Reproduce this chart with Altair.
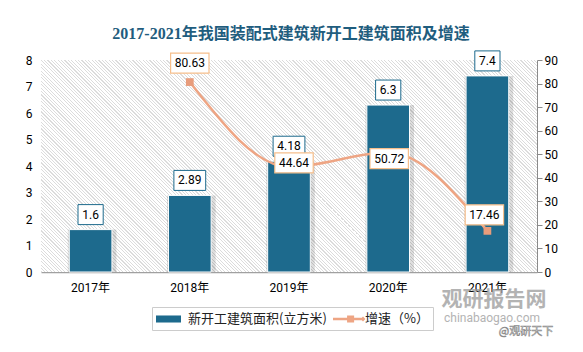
import altair as alt
import pandas as pd

# ---------------- data ----------------
years = ["2017年", "2018年", "2019年", "2020年", "2021年"]
area_values = [1.6, 2.89, 4.18, 6.3, 7.4]
area_labels = ["1.6", "2.89", "4.18", "6.3", "7.4"]
growth_years = ["2018年", "2019年", "2020年", "2021年"]
growth_values = [80.63, 44.64, 50.72, 17.46]
growth_labels = ["80.63", "44.64", "50.72", "17.46"]
left_ticks = list(range(0, 9))
right_ticks = list(range(0, 91, 10))

SERIES_BAR = "新开工建筑面积(立方米)"
SERIES_LINE = "增速（%）"
TITLE = "2017-2021年我国装配式建筑新开工建筑面积及增速"

# ---------------- style ----------------
W, H = 496, 212
BAR = "#1d6a8d"
LINE = "#eea584"
MARK = "#e89c7b"
LBORDER = "#f6bf8c"
HATCH = "#dcdcdc"
NUM_FONT = "Roboto, Noto Sans CJK SC"
CJK_FONT = "Noto Sans CJK SC"
TITLE_FONT = "Liberation Serif, Noto Sans CJK SC"

# label pixel offsets for the growth labels (style, not data)
growth_label_dx = [0, 5, 1, -3]
growth_label_dy = [-19, -4, 6, -16]


def box_path(label):
    w = 6.6 * sum(c.isdigit() for c in label) + 3 * label.count(".") + 9
    a = w / 2 / 20.0  # unit = 20 px when size = 1600
    return f"M{-a:.3f},-0.5L{a:.3f},-0.5L{a:.3f},0.5L{-a:.3f},0.5Z"


bar_df = pd.DataFrame({
    "year": years,
    "area": area_values,
    "label": area_labels,
    "box": [box_path(s) for s in area_labels],
    "series": [SERIES_BAR] * len(years),
})
line_df = pd.DataFrame({
    "year": growth_years,
    "growth": growth_values,
    "label": growth_labels,
    "box": [box_path(s) for s in growth_labels],
    "dx": growth_label_dx,
    "dy": growth_label_dy,
})

# hatched background via a striped linear gradient
P = 3.4
N = int(round((W + H) / P))
g = 0.34
stops = []
for i in range(N):
    t0 = round(i / N, 6)
    t1 = round((i + g) / N, 6)
    t2 = round((i + 1) / N, 6)
    stops += [
        {"offset": t0, "color": HATCH},
        {"offset": t1, "color": HATCH},
        {"offset": t1, "color": "#ffffff"},
        {"offset": t2, "color": "#ffffff"},
    ]
k = (W + H) / (W * W + H * H)
grad = {"gradient": "linear", "x1": 0, "y1": 1, "x2": k * W, "y2": 1 - k * H, "stops": stops}

one = pd.DataFrame({"a": [0]})
bg = alt.Chart(one).mark_rect(fill=grad, strokeWidth=0).encode(
    x=alt.value(0), x2=alt.value(W), y=alt.value(0), y2=alt.value(H)
)

x_enc = alt.X(
    "year:N",
    scale=alt.Scale(domain=years, paddingInner=0.57, paddingOuter=0.285),
    axis=alt.Axis(
        title=None, labelAngle=0, ticks=False, tickSize=0, domainColor="#a0a0a0",
        domainWidth=1.5, labelPadding=10, labelFontSize=12, labelColor="#000000",
        labelFont=NUM_FONT,
    ),
)
yL = alt.Y(
    "area:Q",
    scale=alt.Scale(domain=[0, 8], nice=False),
    axis=alt.Axis(
        title=None, values=left_ticks, domain=False, ticks=False, tickSize=0, grid=False,
        labelPadding=9, labelFontSize=12, labelColor="#000000", labelFont=NUM_FONT,
    ),
)
yR = alt.Y(
    "growth:Q",
    scale=alt.Scale(domain=[0, 90], nice=False),
    axis=alt.Axis(
        title=None, orient="right", values=right_ticks, grid=False,
        domainColor="#8a8a8a", tickColor="#8a8a8a", tickSize=5, labelPadding=2,
        labelFontSize=12, labelColor="#000000", labelFont=NUM_FONT,
    ),
)

rect_sym = "M-1,-0.44L2.125,-0.44L2.125,0.44L-1,0.44Z"
line_sym = ("M-1,-0.16L2.7,-0.16L2.7,0.16L-1,0.16Z "
            "M0.76,-0.44L1.64,-0.44L1.64,0.44L0.76,0.44Z "
            "M2.75,-0.3L3.05,0L2.75,0.3L2.45,0Z")

legend = alt.Legend(
    title=None, orient="none", legendX=111, legendY=247, direction="horizontal",
    strokeColor="#cccccc", padding=4, labelFontSize=13, labelFont=CJK_FONT,
    labelColor="#222222", symbolSize=256, labelOffset=16, columnPadding=6,
    labelLimit=300, symbolStrokeWidth=0, symbolOpacity=1,
    symbolType={"expr": f"datum.value === '{SERIES_LINE}' ? '{line_sym}' : '{rect_sym}'"},
)
color_enc = alt.Color(
    "series:N",
    scale=alt.Scale(domain=[SERIES_BAR, SERIES_LINE], range=[BAR, LINE]),
    legend=legend,
)

shadow = alt.Chart(bar_df).mark_bar(
    color="#000000", opacity=0.13, width=alt.RelativeBandSize(1.14), xOffset=1.5
).encode(x=x_enc, y=yL)
bars = alt.Chart(bar_df).mark_bar(stroke="white", strokeWidth=1).encode(
    x=x_enc, y=yL, color=color_enc
)
bar_box = alt.Chart(bar_df).mark_point(
    filled=True, fill="white", stroke=BAR, strokeWidth=1, size=1600, opacity=1, yOffset=-15
).encode(x=x_enc, y=yL, shape=alt.Shape("box:N", scale=None))
bar_text = alt.Chart(bar_df).mark_text(
    dy=-15, fontSize=12, font=NUM_FONT, color="#000000", baseline="middle"
).encode(x=x_enc, y=yL, text="label:N")

left = alt.layer(shadow, bars, bar_box, bar_text)

line = alt.Chart(line_df).mark_line(color=LINE, strokeWidth=2.5, interpolate="monotone").encode(
    x=x_enc, y=yR
)
pts = alt.Chart(line_df).mark_square(size=60, color=MARK, opacity=1).encode(x=x_enc, y=yR)
line_box = alt.Chart(line_df).mark_point(
    filled=True, fill="white", stroke=LBORDER, strokeWidth=1.2, size=1600, opacity=1,
    xOffset={"expr": "datum.dx"}, yOffset={"expr": "datum.dy"},
).encode(x=x_enc, y=yR, shape=alt.Shape("box:N", scale=None))
line_text = alt.Chart(line_df).mark_text(
    fontSize=12, font=NUM_FONT, color="#000000", baseline="middle",
    dx={"expr": "datum.dx"}, dy={"expr": "datum.dy"},
).encode(x=x_enc, y=yR, text="label:N")

right = alt.layer(line, pts, line_box, line_text)

wm1 = alt.Chart(one).mark_text(
    text="观研报告网", font=CJK_FONT, fontSize=21, fontWeight="bold", color="#9a9a9a",
    opacity=0.75, baseline="middle",
).encode(x=alt.value(453), y=alt.value(240))
wm2 = alt.Chart(one).mark_text(
    text="chinabaogao.com", font="Roboto", fontSize=12, color="#9a9a9a",
    opacity=0.75, baseline="middle",
).encode(x=alt.value(451), y=alt.value(258))
wm3 = alt.Chart(one).mark_text(
    text="@观研天下", font=CJK_FONT, fontSize=11, color="#ffffff", stroke="#8a8a8a",
    strokeWidth=0.6, baseline="middle",
).encode(x=alt.value(485), y=alt.value(272))

chart = alt.layer(bg, left, right, wm1, wm2, wm3).resolve_scale(y="independent").properties(
    width=W,
    height=H,
    padding={"left": 41, "top": 60, "right": 46, "bottom": 80},
    autosize=alt.AutoSizeParams(type="none"),
    title=alt.TitleParams(
        TITLE, font=TITLE_FONT, fontSize=16, fontWeight="bold", color="#1f5d7e",
        anchor="middle", offset=7, dx=2,
    ),
    background="white",
).configure_view(stroke=None)

chart.save("out.html", embed_options={"renderer": "svg", "actions": False})
